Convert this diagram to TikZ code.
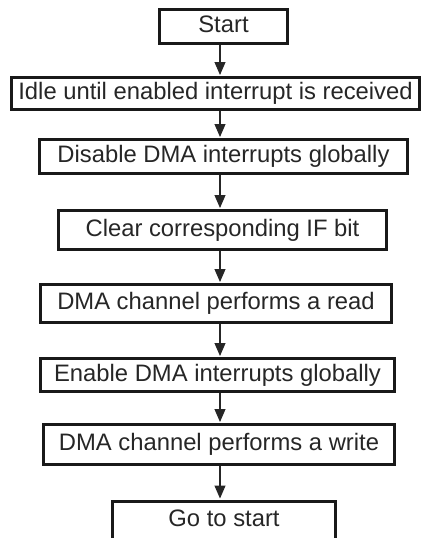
\documentclass[tikz,border=0pt]{standalone}
\usepackage{fontspec}
\setmainfont{Liberation Sans}
\usetikzlibrary{arrows.meta}
\begin{document}
\begin{tikzpicture}[x=1pt,y=-1pt,
  stepbox/.style={draw=black!90,line width=3pt,rectangle,inner sep=0pt,
    font=\fontsize{23.8}{28}\selectfont,text=black!85,
    text height=17pt,text depth=5pt},
  arr/.style={draw=black!85,line width=1.1pt,-{Triangle[length=13pt,width=11pt]},shorten >=1pt}]
\useasboundingbox (0,0) rectangle (422,538);
\clip (0,0) rectangle (422,538);
\coordinate (ax) at (220,0);
\node[stepbox,minimum width=128pt,minimum height=34pt] (start) at (223.5,26) {Start};
\node[stepbox,minimum width=408pt,minimum height=32pt] (idle) at (215.5,93.5) {Idle until enabled interrupt is received};
\node[stepbox,minimum width=368pt,minimum height=34pt] (dis) at (223.5,156.5) {Disable DMA interrupts globally};
\node[stepbox,minimum width=328pt,minimum height=39pt] (clr) at (222.5,230) {Clear corresponding IF bit};
\node[stepbox,minimum width=351pt,minimum height=38pt] (rd) at (216,303.5) {DMA channel performs a read};
\node[stepbox,minimum width=354pt,minimum height=33pt] (en) at (217.5,375) {Enable DMA interrupts globally};
\node[stepbox,minimum width=351pt,minimum height=40pt] (wr) at (219,444.5) {DMA channel performs a write};
\node[stepbox,minimum width=223pt,minimum height=38pt,anchor=north] (go) at (224,499.5) {Go to start};
\draw[arr] (start.south -| ax) -- (idle.north -| ax);
\draw[arr] (idle.south -| ax) -- (dis.north -| ax);
\draw[arr] (dis.south -| ax) -- (clr.north -| ax);
\draw[arr] (clr.south -| ax) -- (rd.north -| ax);
\draw[arr] (rd.south -| ax) -- (en.north -| ax);
\draw[arr] (en.south -| ax) -- (wr.north -| ax);
\draw[arr] (wr.south -| ax) -- (go.north -| ax);
\end{tikzpicture}
\end{document}
